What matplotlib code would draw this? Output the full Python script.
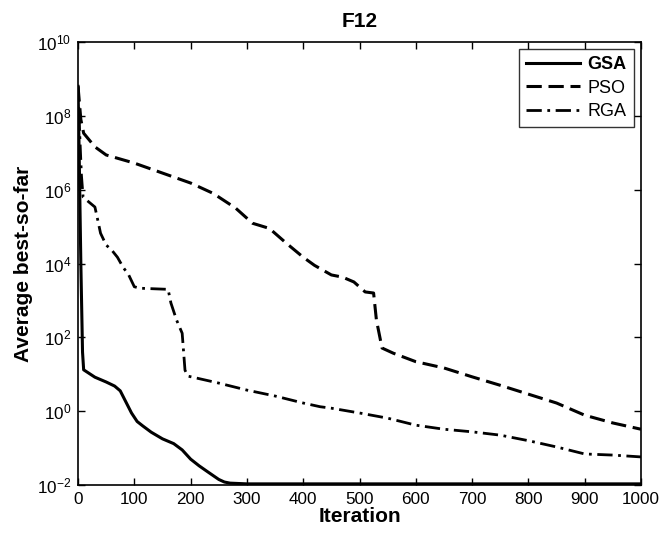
import matplotlib
matplotlib.use("Agg")
import matplotlib.pyplot as plt
import numpy as np

plt.rcParams['font.family'] = ['Liberation Sans', 'DejaVu Sans']
plt.rcParams['mathtext.fontset'] = 'custom'
plt.rcParams['mathtext.rm'] = 'Liberation Sans'
plt.rcParams['mathtext.it'] = 'Liberation Sans:italic'
plt.rcParams['mathtext.bf'] = 'Liberation Sans:bold'

# Data: iteration -> log10(average best-so-far)
gsa_iter = [0, 2, 5, 8, 10, 30, 50, 65, 75, 85, 95, 105, 115, 130, 150, 170, 185, 200, 215, 230, 250, 260, 270, 300, 1000]
gsa_log = [8.8, 7.0, 4.0, 1.6, 1.12, 0.92, 0.79, 0.68, 0.55, 0.25, -0.05, -0.28, -0.4, -0.57, -0.75, -0.88,
           -1.05, -1.3, -1.48, -1.64, -1.85, -1.92, -1.95, -1.97, -1.97]

pso_iter = [0, 5, 10, 30, 50, 100, 150, 200, 240, 280, 310, 340, 370, 400, 420, 450, 470, 490, 510,
            525, 530, 540, 560, 600, 650, 700, 750, 800, 850, 900, 950, 1000]
pso_log = [8.8, 7.9, 7.53, 7.16, 6.94, 6.72, 6.45, 6.18, 5.9, 5.5, 5.09, 4.95, 4.55, 4.17, 3.95, 3.69,
           3.63, 3.5, 3.23, 3.2, 2.47, 1.71, 1.57, 1.34, 1.17, 0.93, 0.7, 0.46, 0.22, -0.11, -0.32, -0.49]

rga_iter = [0, 3, 6, 9, 15, 30, 35, 40, 50, 60, 70, 80, 90, 100, 110, 160, 165, 175, 185, 190, 195,
            250, 300, 350, 400, 430, 450, 500, 550, 600, 650, 700, 750, 800, 850, 900, 950, 1000]
rga_log = [8.8, 7.5, 6.4, 5.8, 5.72, 5.53, 5.18, 4.82, 4.5, 4.36, 4.17, 3.9, 3.69, 3.37, 3.33, 3.3,
           2.93, 2.47, 2.11, 1.11, 0.95, 0.76, 0.57, 0.41, 0.22, 0.12, 0.08, -0.05, -0.19, -0.38, -0.49,
           -0.56, -0.65, -0.8, -0.97, -1.16, -1.19, -1.24]

x_ticks = [0, 100, 200, 300, 400, 500, 600, 700, 800, 900, 1000]
y_ticks = [1e-2, 1e0, 1e2, 1e4, 1e6, 1e8, 1e10]

fig = plt.figure(figsize=(6.59, 5.34), dpi=100)
ax = fig.add_axes([0.1184, 0.0918, 0.8543, 0.8295])

ax.plot(gsa_iter, 10 ** np.array(gsa_log), color='black', lw=2.2, linestyle='-', label='GSA')
ax.plot(pso_iter, 10 ** np.array(pso_log), color='black', lw=2.2, linestyle=(0, (5, 2.2)), label='PSO')
ax.plot(rga_iter, 10 ** np.array(rga_log), color='black', lw=2.0, linestyle=(0, (5.5, 2, 1, 2)), label='RGA')

ax.set_yscale('log')
ax.set_xlim(0, 1000)
ax.set_ylim(1e-2, 1e10)
ax.set_xticks(x_ticks)
ax.set_yticks(y_ticks)
ax.yaxis.set_minor_locator(matplotlib.ticker.NullLocator())
ax.tick_params(direction='in', top=True, right=True, length=5, width=1, labelsize=12.3, pad=5)
for s in ax.spines.values():
    s.set_linewidth(1.2)

ax.set_xlabel('Iteration', fontsize=15, fontweight='bold', labelpad=0)
ax.set_ylabel('Average best-so-far', fontsize=15, fontweight='bold', labelpad=3)
ax.set_title('F12', fontsize=15, fontweight='bold', pad=11)

leg = ax.legend(loc='upper right', fontsize=13, handlelength=3.0, frameon=True, fancybox=False,
                edgecolor='black', borderaxespad=0.4, labelspacing=0.35, handletextpad=0.4,
                borderpad=0.4)
leg.get_frame().set_linewidth(1.0)
leg.get_texts()[0].set_fontweight('bold')

fig.savefig('out.png', dpi=100)
